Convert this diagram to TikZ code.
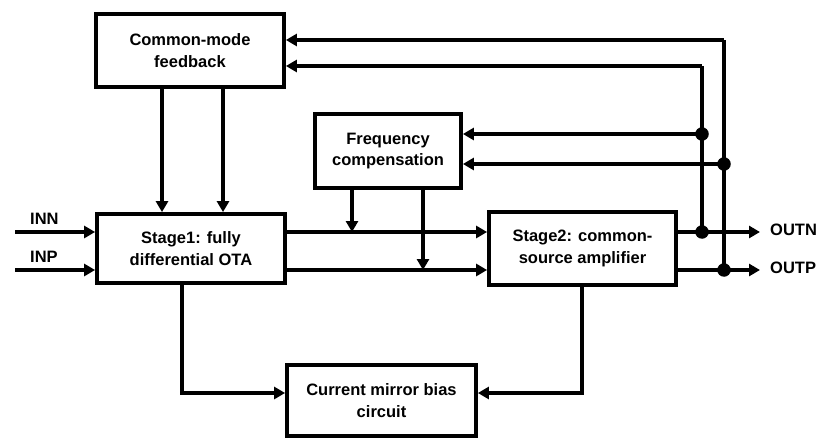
\documentclass[tikz,border=0pt]{standalone}
\usepackage{fontspec}
\setmainfont{Liberation Sans}
\usetikzlibrary{arrows.meta}
\begin{document}
\begin{tikzpicture}[x=1pt,y=-1pt,
  blk/.style={draw, line width=3.8pt, fill=white, align=center, inner sep=0pt,
    font=\bfseries\fontsize{16.5}{21.5}\selectfont},
  wire/.style={line width=3.8pt},
  sig/.style={wire, -{Triangle[length=11pt,width=12pt]}},
  lbl/.style={font=\bfseries\fontsize{16.5}{19}\selectfont, inner sep=0pt},
  junc/.style={circle, fill=black, inner sep=0pt, minimum size=13.5pt}]
\useasboundingbox (0,0) rectangle (822,441);

% blocks
\node[blk, minimum width=188pt, minimum height=73pt] (cmfb) at (190,50.5) {Common-mode\\feedback};
\node[blk, minimum width=146pt, minimum height=74pt] (fc) at (388,151) {Frequency\\compensation};
\node[blk, minimum width=188pt, minimum height=69pt] (s1) at (191,248.5) {Stage1: fully\\differential OTA};
\node[blk, minimum width=187pt, minimum height=73pt] (s2) at (582.5,248.5) {Stage2: common-\\source amplifier};
\node[blk, minimum width=189pt, minimum height=71pt] (cm) at (381.5,400.5) {Current mirror bias\\circuit};

% junction points on the output nets
\node[junc] (jn) at (702,232) {};
\node[junc] (jp) at (724,270) {};
\node[junc] (jfn) at (702,134) {};
\node[junc] (jfp) at (724,164) {};

% inputs
\coordinate (inn) at (15,232);
\coordinate (inp) at (15,270);
\node[lbl, anchor=west] (linn) at (30,219) {INN};
\node[lbl, anchor=west] (linp) at (30,257) {INP};
\draw[sig] (inn) -- (inn -| s1.west);
\draw[sig] (inp) -- (inp -| s1.west);

% outputs
\coordinate (outn) at (760,232);
\coordinate (outp) at (760,270);
\node[lbl, anchor=west] (loutn) at (770,230) {OUTN};
\node[lbl, anchor=west] (loutp) at (770,268) {OUTP};
\draw[sig] (outn -| s2.east) -- (outn);
\draw[sig] (outp -| s2.east) -- (outp);

% stage 1 to stage 2
\draw[sig] (inn -| s1.east) -- (inn -| s2.west);
\draw[sig] (inp -| s1.east) -- (inp -| s2.west);

% common-mode feedback into stage 1
\draw[sig] (162,0 |- cmfb.south) -- (162,0 |- s1.north);
\draw[sig] (223,0 |- cmfb.south) -- (223,0 |- s1.north);

% frequency compensation onto the interstage nets
\draw[sig] (352,0 |- fc.south) -- (352,232);
\draw[sig] (423,0 |- fc.south) -- (423,270);

% feedback from the outputs
\coordinate (tn) at (702,66);
\coordinate (tp) at (724,40);
\draw[wire] (jn.center) -- (tn);
\draw[sig] (tn) -- (tn -| cmfb.east);
\draw[wire] (jp.center) -- (tp);
\draw[sig] (tp) -- (tp -| cmfb.east);
\draw[sig] (jfn.center) -- (jfn -| fc.east);
\draw[sig] (jfp.center) -- (jfp -| fc.east);

% bias
\coordinate (b1) at (182,393);
\coordinate (b2) at (582,393);
\draw[sig] (b1 |- s1.south) -- (b1) -- (b1 -| cm.west);
\draw[sig] (b2 |- s2.south) -- (b2) -- (b2 -| cm.east);
\end{tikzpicture}
\end{document}
